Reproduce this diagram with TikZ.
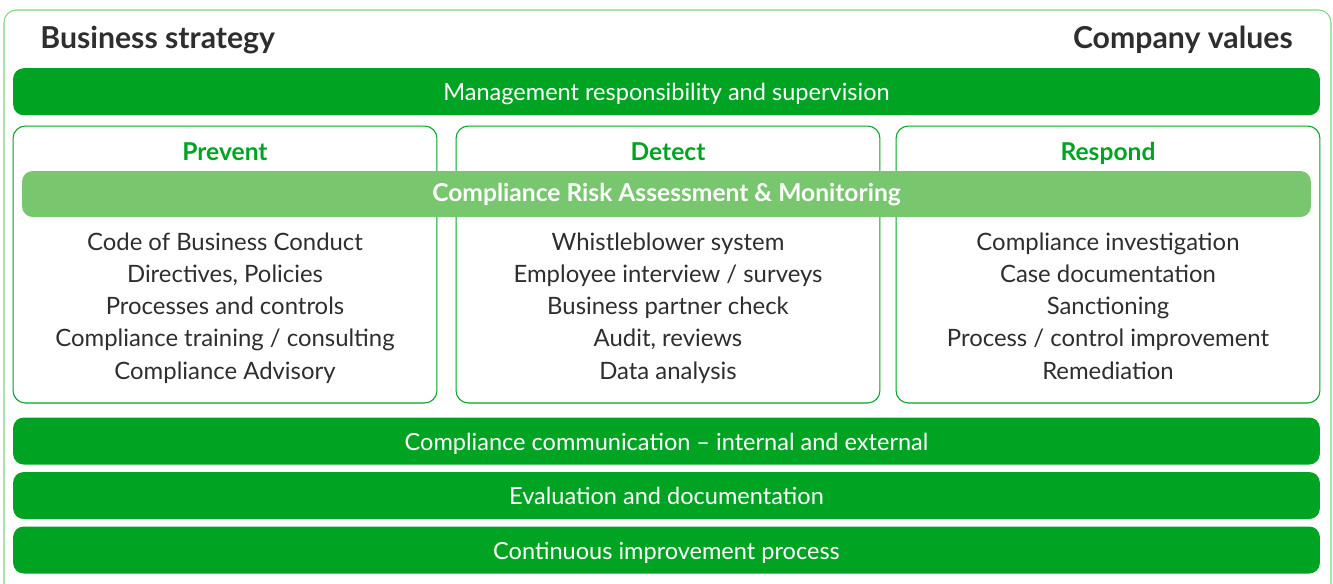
\documentclass[tikz,border=0pt]{standalone}
\usepackage{fontspec}
\setmainfont{Lato}
\usepackage{tikz}
\usetikzlibrary{positioning}

\definecolor{compgreen}{HTML}{00A422}
\definecolor{paleband}{HTML}{78C76E}
\definecolor{frameline}{HTML}{7DD67D}
\definecolor{darktext}{HTML}{2E2E2E}

\begin{document}
\begin{tikzpicture}
  [
  x=0.02cm,y=-0.02cm,
  bar/.style={rectangle,rounded corners=6pt,fill=compgreen,text=white,inner sep=0pt,
    minimum width=26.14cm,minimum height=0.94cm,text height=11.2pt,text depth=0.8pt,
    font=\fontsize{13.4}{16}\selectfont},
  pillar/.style={rectangle,rounded corners=7pt,draw=compgreen,line width=0.6pt,inner sep=0pt,
    minimum width=8.48cm,minimum height=5.54cm},
  pillarhead/.style={text=compgreen,inner sep=0pt,text height=9pt,text depth=1.2pt,
    font=\bfseries\fontsize{14}{17}\selectfont},
  itemline/.style={text=darktext,inner sep=0pt,anchor=base,font=\fontsize{13.6}{16}\selectfont},
  title/.style={text=darktext,inner sep=0pt,font=\bfseries\fontsize{17.2}{20}\selectfont}
  ]
  \useasboundingbox (0,0) rectangle (1333,583);
  % outer frame, open at the bottom
  \draw[frameline,line width=0.6pt,rounded corners=7pt] (4,600) -- (4,10) -- (1331,10) -- (1331,600);

  \node[title,anchor=base west] (strategy) at (40,48) {Business strategy};
  \node[title,anchor=base east] (values) at (1293,48) {Company values};

  \node[bar] (management) at (666.5,91.7) {Management responsibility and supervision};

  % the three pillars
  \node[pillar] (prevent) at (225,264.5) {};
  \node[pillar] (detect) at (668,264.5) {};
  \node[pillar] (respond) at (1108,264.5) {};

  \node[pillarhead] (preventhead) at (225,153.5) {Prevent};
  \node[pillarhead] (detecthead) at (668,153.5) {Detect};
  \node[pillarhead] (respondhead) at (1108,153.5) {Respond};

  \node[rectangle,rounded corners=6pt,fill=paleband,text=white,inner sep=0pt,
    minimum width=25.78cm,minimum height=0.92cm,text height=9.5pt,text depth=1.2pt,
    font=\bfseries\fontsize{14}{17}\selectfont]
    (riskbar) at (666.5,194) {Compliance Risk Assessment \& Monitoring};

  \foreach \txt [count=\i] in {Code of Business Conduct,Directives{,} Policies,Processes and controls,
      Compliance training / consulting,Compliance Advisory}
    \node[itemline] (prevent-\i) at (225,{250+32.25*(\i-1)}) {\txt};
  \foreach \txt [count=\i] in {Whistleblower system,Employee interview / surveys,Business partner check,
      Audit{,} reviews,Data analysis}
    \node[itemline] (detect-\i) at (668,{250+32.25*(\i-1)}) {\txt};
  \foreach \txt [count=\i] in {Compliance investigation,Case documentation,Sanctioning,
      Process / control improvement,Remediation}
    \node[itemline] (respond-\i) at (1108,{250+32.25*(\i-1)}) {\txt};

  \node[bar] (communication) at (666.5,441) {Compliance communication -- internal and external};
  \node[bar] (evaluation) at (666.5,495.5) {Evaluation and documentation};
  \node[bar] (improvement) at (666.5,550) {Continuous improvement process};
\end{tikzpicture}
\end{document}
